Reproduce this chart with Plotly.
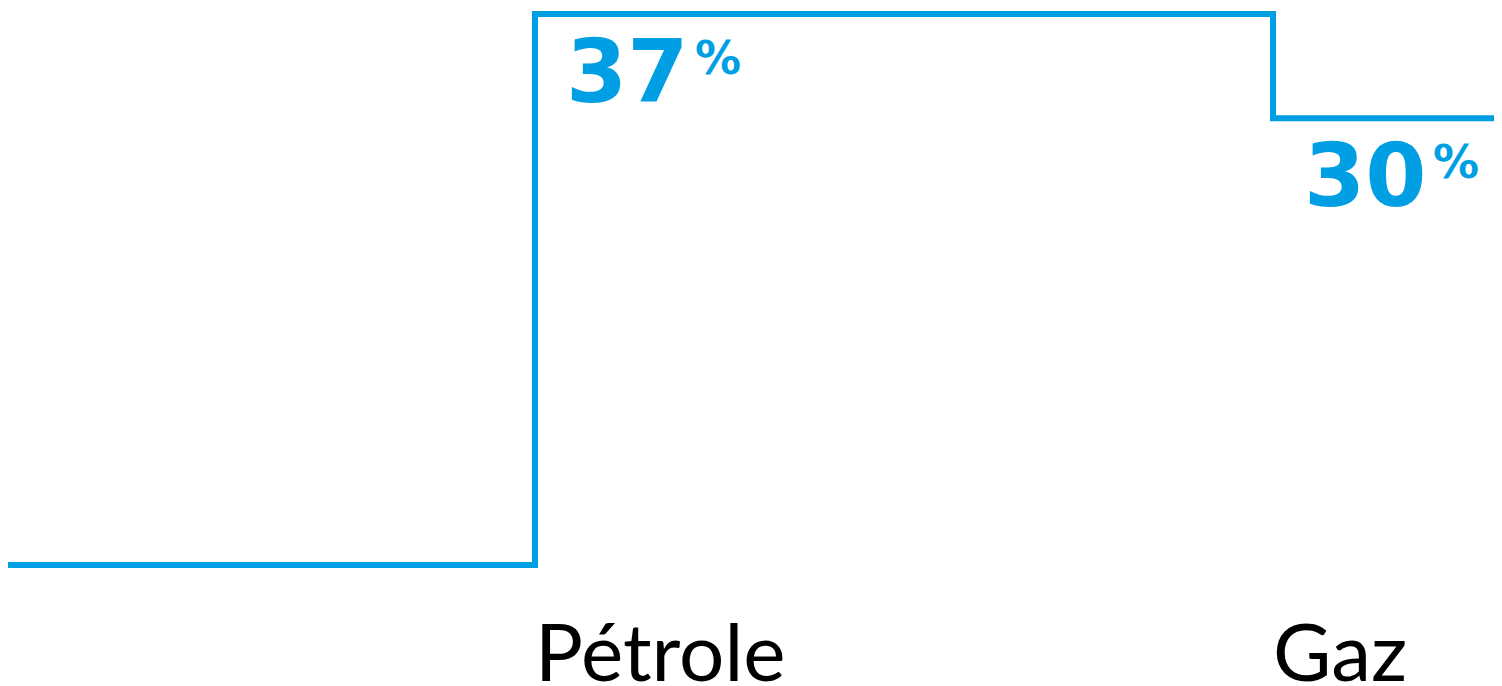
import plotly.graph_objects as go

# Data
categories = ["", "Pétrole", "Gaz", ""]
positions = [0, 1, 2, 3]
values = [0, 37, 30, 30]
value_labels = ["37", "30"]
BLUE = "#009FE3"

W, H = 1494, 678  # page has an 8px body margin
PX_PER_UNIT = 14.89
STEP_PX = 738

fig = go.Figure()
fig.add_trace(go.Scatter(
    x=positions, y=values, mode="lines", line_shape="hv",
    line=dict(color=BLUE, width=6), hoverinfo="skip", showlegend=False,
))

for i, lab in enumerate(value_labels):
    # big bold number
    fig.add_annotation(
        x=positions[i + 1], y=values[i + 1], xref="x", yref="y",
        text=f"<b>{lab}</b>", showarrow=False,
        xanchor="left", yanchor="middle", xshift=29, yshift=-57,
        font=dict(family="DejaVu Sans", size=88, color=BLUE),
    )
    # small raised percent sign
    fig.add_annotation(
        x=positions[i + 1], y=values[i + 1], xref="x", yref="y",
        text="<b>%</b>", showarrow=False,
        xanchor="left", yanchor="middle", xshift=158, yshift=-44,
        font=dict(family="DejaVu Sans", size=46, color=BLUE),
    )
    # category label
    fig.add_annotation(
        x=positions[i + 1], y=0, xref="x", yref="paper",
        text=categories[i + 1], showarrow=False,
        xanchor="left", yanchor="bottom", xshift=-2, yshift=-14,
        font=dict(family="Lato", size=80, color="#000000"),
    )

fig.update_layout(
    width=W, height=H,
    margin=dict(l=0, r=0, t=0, b=0),
    paper_bgcolor="white", plot_bgcolor="white",
    xaxis=dict(range=[1 - 527 / STEP_PX, 1 + (W - 527) / STEP_PX], visible=False, fixedrange=True),
    yaxis=dict(range=[-(H - 557) / PX_PER_UNIT, 37 + 6 / PX_PER_UNIT], visible=False, fixedrange=True),
)

fig.write_html("out.html")
